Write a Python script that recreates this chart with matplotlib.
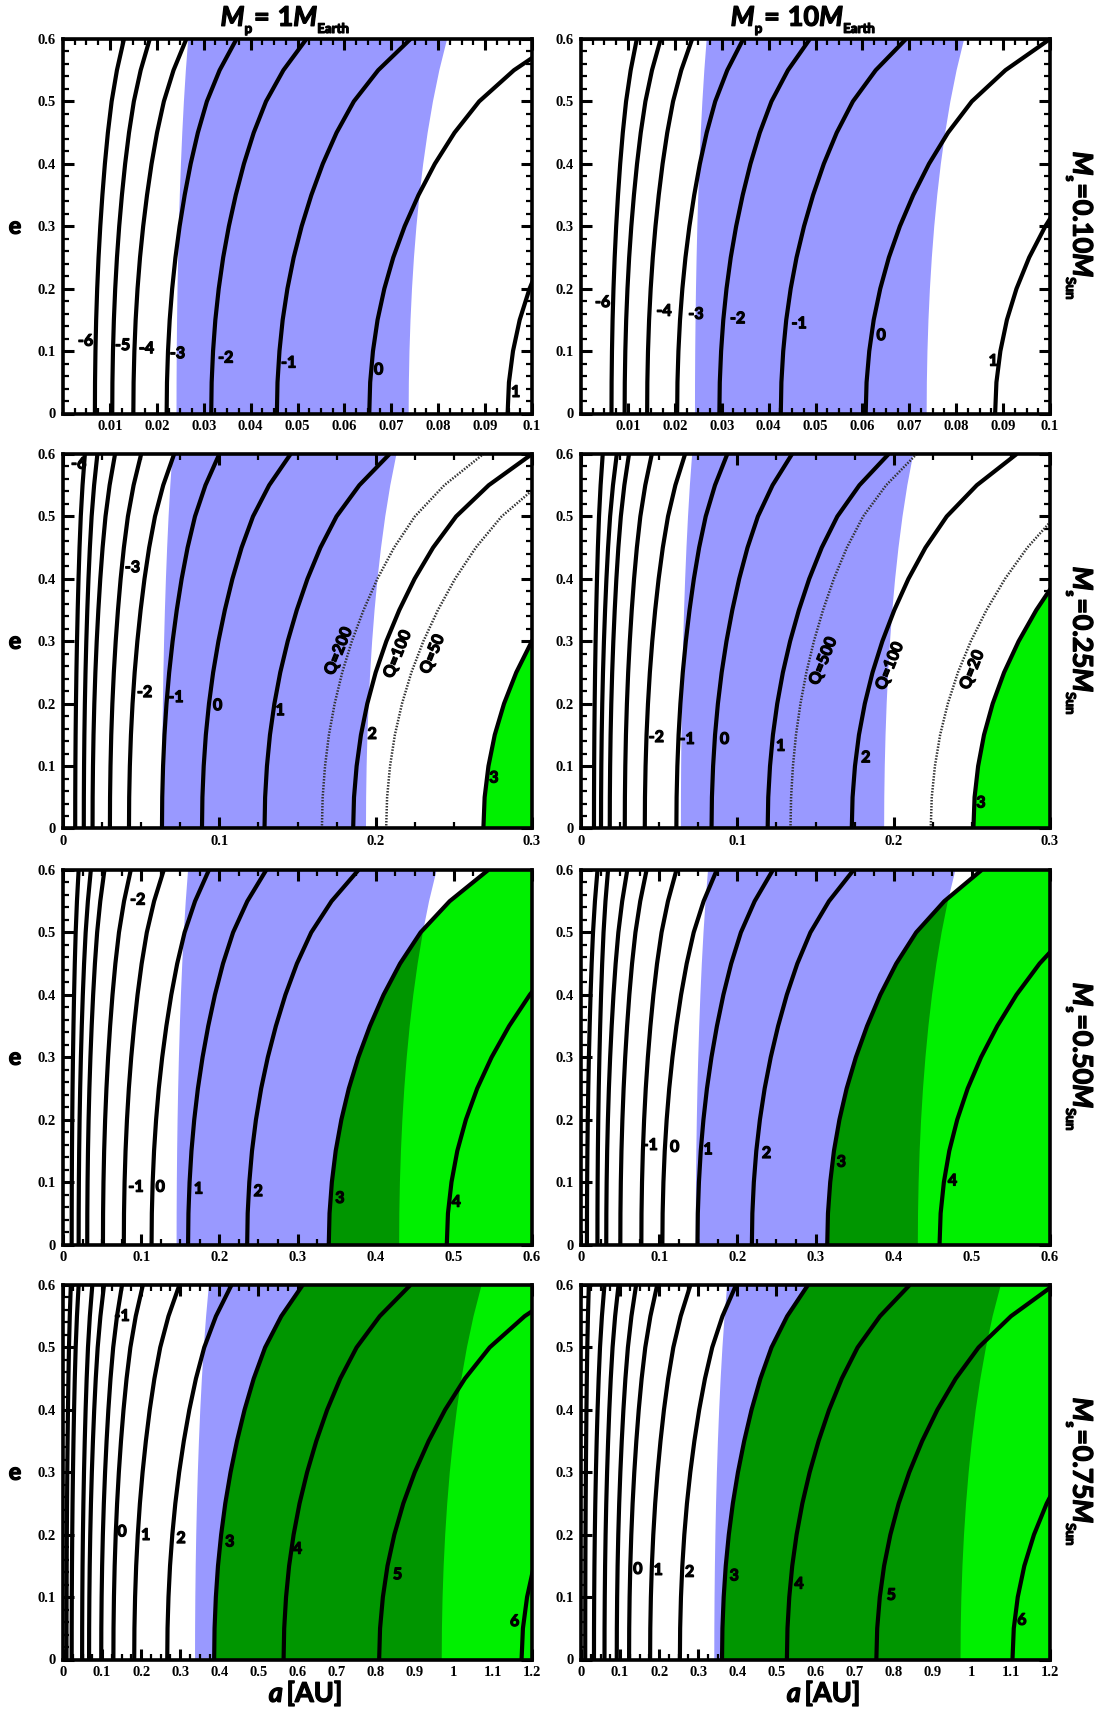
import numpy as np
import matplotlib
matplotlib.use("Agg")
import matplotlib.pyplot as plt
import matplotlib.patheffects as pe
from matplotlib.patches import Polygon
from matplotlib.ticker import FixedLocator, MultipleLocator, FuncFormatter

plt.rcParams["mathtext.fontset"] = "custom"
plt.rcParams["mathtext.rm"] = "Lato:bold"
plt.rcParams["mathtext.it"] = "Lato:bold:italic"
plt.rcParams["mathtext.bf"] = "Lato:bold"

BLUE = "#9999ff"
GREEN = "#00f000"
DKGREEN = "#009600"

# eccentricity samples and the common bending of the curves with e
E_GRID = [0.0, 0.05, 0.10, 0.15, 0.20, 0.25, 0.30, 0.35, 0.40, 0.45, 0.50, 0.55, 0.60]
TIDE_SHAPE = [0.0, 0.0048, 0.0194, 0.0435, 0.079, 0.1258, 0.1855, 0.258, 0.3435, 0.4468, 0.5758, 0.7581, 1.0]
HZ_SHAPE = [0.0, 0.0053, 0.0214, 0.0484, 0.087, 0.138, 0.2025, 0.282, 0.378, 0.494, 0.632, 0.798, 1.0]

# ---- M_s = 0.10, M_p = 1
P11_LEVELS = [-6, -5, -4, -3, -2, -1, 0, 1]
P11_A0 = [0.0068, 0.0105, 0.0150, 0.0221, 0.0316, 0.0456, 0.0653, 0.0948]
P11_A6 = [0.0130, 0.0185, 0.0263, 0.0370, 0.0519, 0.0741, 0.1060, 0.1540]
P11_LAB = [-6, -5, -4, -3, -2, -1, 0, 1]
P11_LAB_A = [0.0048, 0.0127, 0.0178, 0.0244, 0.0347, 0.0481, 0.0673, 0.0965]
P11_LAB_E = [0.115, 0.108, 0.103, 0.095, 0.088, 0.080, 0.069, 0.033]
P11_HZ = [0.0242, 0.0267, 0.0737, 0.0819]

# ---- M_s = 0.10, M_p = 10
P12_LEVELS = [-6, -5, -4, -3, -2, -1, 0, 1]
P12_A0 = [0.0065, 0.0093, 0.0141, 0.0205, 0.0295, 0.0426, 0.0607, 0.0883]
P12_A6 = [0.0119, 0.0170, 0.0237, 0.0346, 0.0488, 0.0693, 0.1000, 0.1460]
P12_LAB = [-6, -4, -3, -2, -1, 0, 1]
P12_LAB_A = [0.0046, 0.0177, 0.0245, 0.0334, 0.0465, 0.0640, 0.0879]
P12_LAB_E = [0.177, 0.163, 0.158, 0.151, 0.143, 0.124, 0.083]
P12_HZ = [0.0243, 0.0268, 0.0737, 0.0817]

# ---- M_s = 0.25, M_p = 1
P21_LEVELS = [-6, -5, -4, -3, -2, -1, 0, 1, 2, 3]
P21_A0 = [0.0078, 0.0133, 0.0189, 0.0300, 0.0422, 0.0633, 0.0889, 0.1289, 0.1856, 0.2689]
P21_A6 = [0.0140, 0.0220, 0.0333, 0.0500, 0.0711, 0.1000, 0.1456, 0.2089, 0.3000, 0.4360]
P21_LAB = [-6, -3, -2, -1, 0, 1, 2, 3]
P21_LAB_A = [0.010, 0.0444, 0.0522, 0.0722, 0.0989, 0.1389, 0.1978, 0.2756]
P21_LAB_E = [0.583, 0.417, 0.217, 0.209, 0.196, 0.188, 0.150, 0.080]
P21_Q_A0 = [0.1656, 0.2067]
P21_Q_A6 = [0.2689, 0.3350]
P21_Q_TXT = ["Q=200", "Q=100", "Q=50"]
P21_Q_A = [0.1767, 0.2144, 0.2367]
P21_Q_E = [0.284, 0.279, 0.279]
P21_HZ = [0.0633, 0.0700, 0.1938, 0.2133]

# ---- M_s = 0.25, M_p = 10
P22_LEVELS = [-6, -5, -4, -3, -2, -1, 0, 1, 2, 3]
P22_A0 = [0.0083, 0.0128, 0.0184, 0.0280, 0.0408, 0.0610, 0.0835, 0.1194, 0.1732, 0.2510]
P22_A6 = [0.0139, 0.0229, 0.0307, 0.0453, 0.0666, 0.0936, 0.1350, 0.1968, 0.2787, 0.4070]
P22_LAB = [-2, -1, 0, 1, 2, 3]
P22_LAB_A = [0.0482, 0.0678, 0.0918, 0.1277, 0.1822, 0.2558]
P22_LAB_E = [0.145, 0.142, 0.142, 0.131, 0.1125, 0.040]
P22_Q_A0 = [0.1340, 0.2237]
P22_Q_A6 = [0.2147, 0.3620]
P22_Q_TXT = ["Q=500", "Q=100", "Q=20"]
P22_Q_A = [0.1553, 0.1979, 0.2506]
P22_Q_E = [0.268, 0.260, 0.254]
P22_HZ = [0.0639, 0.0711, 0.1939, 0.2125]

# ---- M_s = 0.50, M_p = 1
P31_LEVELS = [-5, -4, -3, -2, -1, 0, 1, 2, 3, 4]
P31_A0 = [0.0111, 0.0200, 0.0310, 0.0511, 0.0778, 0.1133, 0.1600, 0.2356, 0.3400, 0.4910]
P31_A6 = [0.0200, 0.0356, 0.0530, 0.0867, 0.1289, 0.1867, 0.2600, 0.3780, 0.5440, 0.8000]
P31_LAB = [-2, -1, 0, 1, 2, 3, 4]
P31_LAB_A = [0.0956, 0.0933, 0.1244, 0.1733, 0.2498, 0.3542, 0.5031]
P31_LAB_E = [0.551, 0.091, 0.091, 0.088, 0.084, 0.073, 0.067]
P31_HZ = [0.1453, 0.1600, 0.4300, 0.4780]

# ---- M_s = 0.50, M_p = 10
P32_LEVELS = [-5, -4, -3, -2, -1, 0, 1, 2, 3, 4]
P32_A0 = [0.0076, 0.0210, 0.0323, 0.0503, 0.0772, 0.1041, 0.1490, 0.2186, 0.3150, 0.4587]
P32_A6 = [0.0211, 0.0346, 0.0592, 0.0839, 0.1221, 0.1737, 0.2455, 0.3487, 0.5126, 0.7450]
P32_LAB = [-1, 0, 1, 2, 3, 4]
P32_LAB_A = [0.0884, 0.1198, 0.1625, 0.2374, 0.3330, 0.4753]
P32_LAB_E = [0.158, 0.155, 0.151, 0.145, 0.131, 0.101]
P32_HZ = [0.1468, 0.1625, 0.4309, 0.4790]

# ---- M_s = 0.75, M_p = 1
P41_LEVELS = [-5, -4, -3, -2, -1, 0, 1, 2, 3, 4, 5, 6]
P41_A0 = [0.0089, 0.0222, 0.0489, 0.0667, 0.0978, 0.1289, 0.1822, 0.2667, 0.3867, 0.5644, 0.8089, 1.1733]
P41_A6 = [0.0200, 0.0400, 0.0750, 0.1050, 0.1510, 0.2044, 0.2978, 0.4311, 0.6133, 0.8889, 1.3000, 1.9000]
P41_LAB = [-1, 0, 1, 2, 3, 4, 5, 6]
P41_LAB_A = [0.151, 0.151, 0.2116, 0.3022, 0.4267, 0.600, 0.856, 1.1556]
P41_LAB_E = [0.549, 0.2036, 0.198, 0.193, 0.1875, 0.176, 0.135, 0.060]
P41_HZ = [0.3378, 0.3733, 0.9690, 1.0710]

# ---- M_s = 0.75, M_p = 10
P42_LEVELS = [-4, -3, -2, -1, 0, 1, 2, 3, 4, 5, 6]
P42_A0 = [0.0108, 0.0332, 0.0601, 0.0915, 0.1230, 0.1768, 0.2530, 0.3608, 0.5268, 0.7557, 1.1040]
P42_A6 = [0.0200, 0.0600, 0.0960, 0.1410, 0.1950, 0.2800, 0.3967, 0.5807, 0.8410, 1.2100, 1.8000]
P42_LAB = [0, 1, 2, 3, 4, 5, 6]
P42_LAB_A = [0.1454, 0.1975, 0.278, 0.392, 0.558, 0.794, 1.128]
P42_LAB_E = [0.1436, 0.142, 0.139, 0.133, 0.120, 0.102, 0.062]
P42_HZ = [0.3410, 0.3740, 0.9710, 1.0740]

ROW_XMAX = [0.1, 0.3, 0.6, 1.2]
ROW_MINOR = [0.0025, 0.025, 0.025, 0.025]
ROW_MAJOR = [[0.01 * k for k in range(1, 11)],
             [0.1 * k for k in range(0, 4)],
             [0.1 * k for k in range(0, 7)],
             [0.1 * k for k in range(0, 13)]]
STAR_MASS = ["0.10", "0.25", "0.50", "0.75"]
PLANET_MASS = ["1", "10"]

E = np.array(E_GRID)
S_TIDE = np.array(TIDE_SHAPE)
S_HZ = np.array(HZ_SHAPE)


def track(a0, a6, shape):
    return a0 + (a6 - a0) * shape


PANELS = [
    dict(lv=P11_LEVELS, a0=P11_A0, a6=P11_A6, lab=P11_LAB, la=P11_LAB_A, le=P11_LAB_E, hz=P11_HZ),
    dict(lv=P12_LEVELS, a0=P12_A0, a6=P12_A6, lab=P12_LAB, la=P12_LAB_A, le=P12_LAB_E, hz=P12_HZ),
    dict(lv=P21_LEVELS, a0=P21_A0, a6=P21_A6, lab=P21_LAB, la=P21_LAB_A, le=P21_LAB_E, hz=P21_HZ,
         q0=P21_Q_A0, q6=P21_Q_A6, qt=P21_Q_TXT, qa=P21_Q_A, qe=P21_Q_E),
    dict(lv=P22_LEVELS, a0=P22_A0, a6=P22_A6, lab=P22_LAB, la=P22_LAB_A, le=P22_LAB_E, hz=P22_HZ,
         q0=P22_Q_A0, q6=P22_Q_A6, qt=P22_Q_TXT, qa=P22_Q_A, qe=P22_Q_E),
    dict(lv=P31_LEVELS, a0=P31_A0, a6=P31_A6, lab=P31_LAB, la=P31_LAB_A, le=P31_LAB_E, hz=P31_HZ),
    dict(lv=P32_LEVELS, a0=P32_A0, a6=P32_A6, lab=P32_LAB, la=P32_LAB_A, le=P32_LAB_E, hz=P32_HZ),
    dict(lv=P41_LEVELS, a0=P41_A0, a6=P41_A6, lab=P41_LAB, la=P41_LAB_A, le=P41_LAB_E, hz=P41_HZ),
    dict(lv=P42_LEVELS, a0=P42_A0, a6=P42_A6, lab=P42_LAB, la=P42_LAB_A, le=P42_LAB_E, hz=P42_HZ),
]

FIG_W, FIG_H = 1095, 1711
fig = plt.figure(figsize=(FIG_W / 100, FIG_H / 100), dpi=100)

COL_X = [63, 581]
AX_W = 469
ROW_TOP = [39, 454, 870, 1285]
AX_H = 374.5

THICK = [pe.withStroke(linewidth=0.9, foreground="black")]
LAB_FONT = dict(family="Lato", weight="bold", fontsize=11.5, path_effects=THICK)
TICK_FONT = dict(family="Liberation Serif", weight="bold", size=10.5)


def fmt(v, pos):
    return "%g" % round(v, 6)


for idx, p in enumerate(PANELS):
    row, col = divmod(idx, 2)
    x0 = COL_X[col] / FIG_W
    y0 = 1 - (ROW_TOP[row] + AX_H) / FIG_H
    ax = fig.add_axes([x0, y0, AX_W / FIG_W, AX_H / FIG_H])
    xmax = ROW_XMAX[row]
    ax.set_xlim(0, xmax)
    ax.set_ylim(0, 0.6)

    # habitable zone band
    hin = track(p["hz"][0], p["hz"][1], S_HZ)
    hout = track(p["hz"][2], p["hz"][3], S_HZ)
    band = np.vstack([np.column_stack([hin, E]), np.column_stack([hout[::-1], E[::-1]])])
    ax.add_patch(Polygon(band, closed=True, facecolor=BLUE, edgecolor="none", zorder=1))

    lv = p["lv"]
    if 3 in lv:
        k = lv.index(3)
        c3 = track(p["a0"][k], p["a6"][k], S_TIDE)
        big = xmax * 3
        gpoly = np.vstack([np.column_stack([c3, E]), [[big, 0.6], [big, 0.0]]])
        gpatch = Polygon(gpoly, closed=True, facecolor=GREEN, edgecolor="none", zorder=2)
        ax.add_patch(gpatch)
        dark = Polygon(band, closed=True, facecolor=DKGREEN, edgecolor="none", zorder=3)
        ax.add_patch(dark)
        dark.set_clip_path(gpatch)

    for a0, a6 in zip(p["a0"], p["a6"]):
        ax.plot(track(a0, a6, S_TIDE), E, color="black", lw=3.0, zorder=5,
                solid_capstyle="butt", solid_joinstyle="round")

    if "q0" in p:
        for a0, a6 in zip(p["q0"], p["q6"]):
            ax.plot(track(a0, a6, S_TIDE), E, color="#333333", lw=1.8, zorder=4,
                    linestyle=(0, (0.6, 0.6)))
        for t, a, e in zip(p["qt"], p["qa"], p["qe"]):
            ax.text(a, e, t, rotation=68, ha="center", va="center", zorder=6, **LAB_FONT)

    for lvl, a, e in zip(p["lab"], p["la"], p["le"]):
        ax.text(a, e, "%d" % lvl, ha="center", va="center", zorder=6, **LAB_FONT)

    # axes frame and ticks
    for s in ax.spines.values():
        s.set_linewidth(2.6)
        s.set_zorder(10)
    ax.xaxis.set_major_locator(FixedLocator(ROW_MAJOR[row]))
    ax.xaxis.set_minor_locator(MultipleLocator(ROW_MINOR[row]))
    ax.yaxis.set_major_locator(MultipleLocator(0.1))
    ax.yaxis.set_minor_locator(MultipleLocator(0.02))
    ax.xaxis.set_major_formatter(FuncFormatter(fmt))
    ax.yaxis.set_major_formatter(FuncFormatter(fmt))
    ax.tick_params(which="both", direction="in", top=True, right=True, zorder=10)
    ax.tick_params(which="major", length=8, width=2.2)
    ax.tick_params(which="minor", length=4.5, width=1.6)
    ax.tick_params(axis="x", pad=5)
    ax.tick_params(axis="y", pad=5)
    for lab in ax.get_xticklabels() + ax.get_yticklabels():
        lab.set_fontproperties(TICK_FONT)

    cx = (COL_X[col] + AX_W / 2) / FIG_W
    cy = 1 - (ROW_TOP[row] + AX_H / 2) / FIG_H
    if col == 0:
        fig.text(15 / FIG_W, cy, "e", ha="center", va="center",
                 family="Lato", weight="bold", fontsize=17, path_effects=THICK)
    else:
        fig.text(1079 / FIG_W, cy,
                 r"$M_{{}_{\mathrm{s}}}\!=\!\mathrm{%s}M_{{}_{\mathrm{Sun}}}$" % STAR_MASS[row],
                 rotation=-90, ha="center", va="center", fontsize=19.5, path_effects=THICK)
    if row == 0:
        fig.text(cx - 12 / FIG_W, 1 - 26 / FIG_H,
                 r"$M_{{}_{\mathrm{p}}}\!=\,\mathrm{%s}M_{{}_{\mathrm{Earth}}}$" % PLANET_MASS[col],
                 ha="center", va="baseline", fontsize=19.5, path_effects=THICK)
    if row == 3:
        fig.text(cx + 8 / FIG_W, 1 - 1702 / FIG_H, r"$a\,$[AU]", ha="center", va="baseline",
                 family="Lato", weight="bold", fontsize=19.5, path_effects=THICK)

fig.savefig("out.png", dpi=100)
